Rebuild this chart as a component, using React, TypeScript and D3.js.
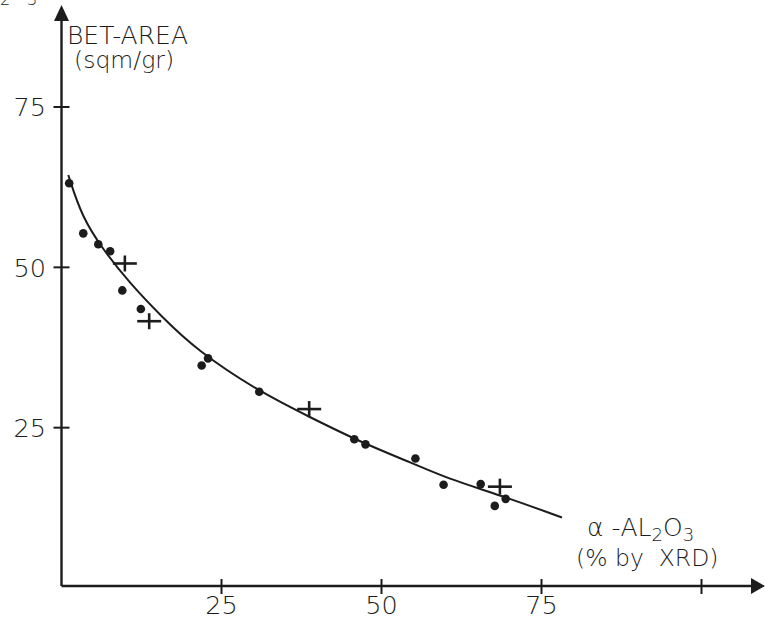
import React from "react";
import * as d3 from "d3";

// ---- data ----
const dotX = [1.2, 3.4, 5.75, 7.6, 9.5, 12.4, 21.9, 22.9, 30.9, 45.75, 47.5, 55.3, 59.7, 65.5, 67.7, 69.4];
const dotY = [63.1, 55.3, 53.6, 52.5, 46.4, 43.5, 34.7, 35.8, 30.6, 23.2, 22.4, 20.2, 16.1, 16.2, 12.8, 13.9];

const plusX = [9.9, 13.7, 38.7, 68.5];
const plusY = [50.6, 41.6, 27.9, 15.8];

const curveX = [1.06, 3.16, 6.53, 10.7, 15.66, 21.1, 30.9, 38.7, 46.6, 55.0, 60.2, 68.5, 78.2];
const curveY = [64.4, 57.9, 52.7, 47.5, 42.3, 37.1, 30.6, 26.7, 22.8, 19.4, 17.1, 14.5, 11.0];

const xTicks = [25, 50, 75, 100];
const xTickLabels = ["25", "50", "75", ""];
const yTicks = [25, 50, 75];
const yTickLabels = ["25", "50", "75"];

const W = 765;
const H = 618;
const INK = "#1c1c1c";
const FONT = "'DejaVu Sans', sans-serif";

export default function App() {
  const x = d3.scaleLinear().domain([0, 100]).range([61.5, 701.5]);
  const y = d3.scaleLinear().domain([0, 75]).range([588, 107]);
  const axisY = 586; // drawn x-axis line
  const axisX = x(0);

  const line = d3
    .line<number>()
    .x((_, i) => x(curveX[i]))
    .y((d) => y(d))
    .curve(d3.curveBasis);

  return (
    <svg
      width={W}
      height={H}
      style={{ position: "absolute", left: 0, top: 0, background: "#fff" }}
      fontFamily={FONT}
    >
      <rect x={0} y={0} width={W} height={H} fill="#fff" />
      {/* clipped caption fragment at top-left */}
      <text x={0} y={5} fontSize={16} fill={INK} fontWeight={300}>2</text>
      <text x={27} y={5} fontSize={16} fill={INK} fontWeight={300}>3</text>

      {/* y axis */}
      <line x1={axisX} y1={axisY} x2={axisX} y2={18} stroke={INK} strokeWidth={2.4} />
      <path d={`M${axisX},5 L${axisX - 7.5},21 L${axisX + 7.5},21 Z`} fill={INK} />
      {/* x axis */}
      <line x1={axisX} y1={axisY} x2={753} y2={axisY} stroke={INK} strokeWidth={2.4} />
      <path d={`M765,${axisY} L751,${axisY - 8} L751,${axisY + 8} Z`} fill={INK} />

      {/* y ticks */}
      {yTicks.map((t, i) => (
        <g key={"yt" + t}>
          <line x1={axisX - 8} x2={axisX + 8} y1={y(t)} y2={y(t)} stroke={INK} strokeWidth={2} />
          <text
            x={46}
            y={y(t)}
            dy="0.36em"
            textAnchor="end"
            fontSize={25.5}
            fontWeight={200}
            fill={INK}
          >
            {yTickLabels[i]}
          </text>
        </g>
      ))}
      {/* x ticks */}
      {xTicks.map((t, i) => (
        <g key={"xt" + t}>
          <line x1={x(t)} x2={x(t)} y1={axisY - 7} y2={axisY + 8} stroke={INK} strokeWidth={2} />
          <text
            x={x(t)}
            y={614}
            textAnchor="middle"
            fontSize={25.5}
            fontWeight={200}
            fill={INK}
          >
            {xTickLabels[i]}
          </text>
        </g>
      ))}

      {/* axis titles */}
      <text x={67} y={44} fontSize={25} fontWeight={200} fill={INK}>BET-AREA</text>
      <text x={74} y={68} fontSize={23.5} fontWeight={200} fill={INK}>(sqm/gr)</text>

      <text x={587} y={536} fontSize={25} fontWeight={200} fill={INK}>
        <tspan>α -AL</tspan>
        <tspan fontSize={18} dy={5}>2</tspan>
        <tspan dy={-5}>O</tspan>
        <tspan fontSize={18} dy={5}>3</tspan>
      </text>
      <text x={576} y={566} fontSize={23.5} fontWeight={200} fill={INK} style={{ whiteSpace: "pre" }}>
        (% by  XRD)
      </text>

      {/* fitted curve */}
      <path d={line(curveY) || ""} fill="none" stroke={INK} strokeWidth={2} />

      {/* dots */}
      {dotX.map((v, i) => (
        <circle key={"d" + i} cx={x(v)} cy={y(dotY[i])} r={4.3} fill={INK} />
      ))}

      {/* plus markers */}
      {plusX.map((v, i) => {
        const cx = x(v);
        const cy = y(plusY[i]);
        return (
          <g key={"p" + i} stroke={INK} strokeWidth={2.6}>
            <line x1={cx - 12} x2={cx + 12} y1={cy} y2={cy} />
            <line x1={cx} x2={cx} y1={cy - 8} y2={cy + 8} />
          </g>
        );
      })}
    </svg>
  );
}
